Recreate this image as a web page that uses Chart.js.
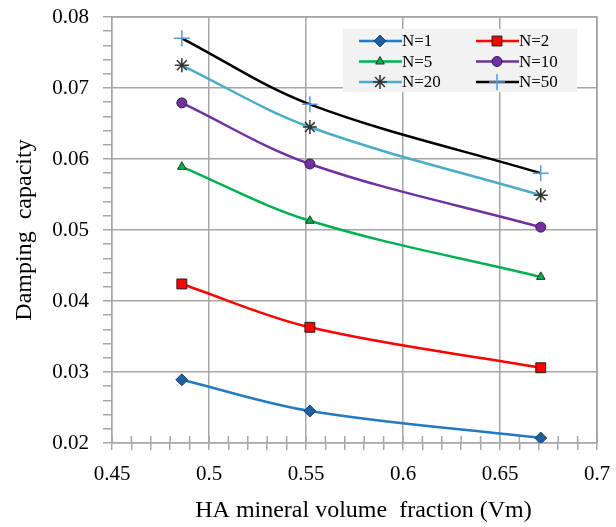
<!DOCTYPE html>
<html>
<head>
<meta charset="utf-8">
<script src="https://cdn.jsdelivr.net/npm/chart.js@4.4.1/dist/chart.umd.min.js"></script>
<style>
  html, body { margin: 0; padding: 0; background: #fff; }
  #wrap { width: 616px; height: 527px; }
</style>
</head>
<body>
<div id="wrap"><canvas id="damping-chart" width="616" height="527"></canvas></div>
<script>
var volumeFraction = [0.486, 0.552, 0.671];
var seriesNames = ["N=1", "N=2", "N=5", "N=10", "N=20", "N=50"];
var n1 = [0.0289, 0.0245, 0.0207];
var n2 = [0.0424, 0.0363, 0.0306];
var n5 = [0.0589, 0.0513, 0.0434];
var n10 = [0.0679, 0.0593, 0.0504];
var n20 = [0.0732, 0.0645, 0.0549];
var n50 = [0.0770, 0.0677, 0.0580];
var xTicks = [0.45, 0.5, 0.55, 0.6, 0.65, 0.7];
var yTicks = [0.02, 0.03, 0.04, 0.05, 0.06, 0.07, 0.08];

var serif = "'Liberation Serif', 'Times New Roman', serif";
var gridGray = "#a6a6a6";

function pts(ys) {
  return ys.map(function (y, i) { return { x: volumeFraction[i], y: y }; });
}

function series(label, ys, line, style, fill, border, radius) {
  return {
    label: label,
    data: pts(ys),
    borderColor: line,
    borderWidth: 2.5,
    tension: 0.35,
    pointStyle: style,
    pointRadius: radius,
    pointBackgroundColor: fill,
    pointBorderColor: border,
    pointBorderWidth: 1,
    fill: false
  };
}

var datasets = [
  series(seriesNames[0], n1, "#2479c2", "rectRot", "#1f5f9f", "#17456f", 6),
  series(seriesNames[1], n2, "#ff0000", "rect", "#ff0000", "#202020", 7),
  series(seriesNames[2], n5, "#00b050", "triangle", "#00b050", "#1b3b1b", 5),
  series(seriesNames[3], n10, "#7030a0", "circle", "#7030a0", "#3a1a55", 5),
  series(seriesNames[4], n20, "#4bacc6", "star", "#333333", "#333333", 7),
  series(seriesNames[5], n50, "#000000", "cross", "#5b9bd5", "#5b9bd5", 8)
];
datasets[4].pointBorderWidth = 1.5;
datasets[5].pointBorderWidth = 1.5;

function isMajor(v, step) {
  var q = v / step;
  return Math.abs(q - Math.round(q)) < 1e-6;
}

// legend box drawn inside the plot, two columns
var boxLegend = {
  id: "boxLegend",
  afterDraw: function (chart) {
    var ctx = chart.ctx, a = chart.chartArea;
    var left = a.left + 231, top = a.top + 12, w = 234, h = 63;
    ctx.save();
    ctx.fillStyle = "#f2f2f2";
    ctx.fillRect(left, top, w, h);
    ctx.font = "17px " + serif;
    ctx.textBaseline = "middle";
    chart.data.datasets.forEach(function (ds, i) {
      var col = i % 2, row = Math.floor(i / 2);
      var x0 = left + 16 + col * 117, y = top + 12 + row * 20.5;
      ctx.strokeStyle = ds.borderColor;
      ctx.lineWidth = 2.5;
      ctx.beginPath();
      ctx.moveTo(x0, y);
      ctx.lineTo(x0 + 43, y);
      ctx.stroke();
      ctx.fillStyle = ds.pointBackgroundColor;
      ctx.strokeStyle = ds.pointBorderColor;
      ctx.lineWidth = ds.pointBorderWidth;
      Chart.helpers.drawPoint(ctx, { pointStyle: ds.pointStyle, radius: ds.pointRadius, borderWidth: ds.pointBorderWidth }, x0 + 21, y);
      ctx.fillStyle = "#000";
      ctx.fillText(ds.label, x0 + 43, y + 1);
    });
    ctx.restore();
  }
};

// plot border on top and right
var frame = {
  id: "frame",
  beforeDatasetsDraw: function (chart) {
    var ctx = chart.ctx, a = chart.chartArea;
    ctx.save();
    ctx.strokeStyle = gridGray;
    ctx.lineWidth = 1.5;
    ctx.beginPath();
    ctx.moveTo(a.left, a.top);
    ctx.lineTo(a.right, a.top);
    ctx.lineTo(a.right, a.bottom);
    ctx.stroke();
    // x minor ticks crossing the axis
    var xs = chart.scales.x;
    xs.ticks.forEach(function (t) {
      var px = xs.getPixelForValue(t.value);
      ctx.beginPath();
      ctx.moveTo(px, a.bottom - 7);
      ctx.lineTo(px, a.bottom);
      ctx.stroke();
    });
    ctx.restore();
  }
};

new Chart(document.getElementById("damping-chart"), {
  type: "line",
  data: { datasets: datasets },
  plugins: [frame, boxLegend],
  options: {
    responsive: false,
    animation: false,
    layout: { padding: { top: 17, right: 19, left: 0, bottom: 0 } },
    plugins: { legend: { display: false }, tooltip: { enabled: false } },
    scales: {
      x: {
        type: "linear",
        min: xTicks[0],
        max: xTicks[xTicks.length - 1],
        afterFit: function (s) { s.height = 84; s.paddingLeft = 0; s.paddingRight = 0; },
        ticks: {
          stepSize: 0.01,
          autoSkip: false,
          maxRotation: 0,
          padding: 12,
          color: "#000",
          font: { family: serif, size: 21 },
          callback: function (v) {
            return isMajor(v, 0.05) ? String(Number(v.toFixed(2))) : "";
          }
        },
        grid: {
          color: function (c) { return c.tick && isMajor(c.tick.value, 0.05) ? gridGray : "rgba(0,0,0,0)"; },
          tickColor: gridGray,
          lineWidth: 1.5,
          tickLength: 7
        },
        border: { color: gridGray, width: 1.5 },
        title: {
          display: true,
          text: "   HA mineral volume  fraction (Vm)",
          color: "#000",
          font: { family: serif, size: 24 },
          padding: { top: 0, bottom: 2 }
        }
      },
      y: {
        min: yTicks[0],
        max: yTicks[yTicks.length - 1],
        afterFit: function (s) { s.width = 112; s.paddingTop = 0; s.paddingBottom = 0; },
        ticks: {
          stepSize: 0.002,
          autoSkip: false,
          padding: 14,
          color: "#000",
          font: { family: serif, size: 21 },
          callback: function (v) {
            return isMajor(v, 0.01) ? v.toFixed(2) : "";
          }
        },
        grid: {
          color: function (c) { return c.tick && isMajor(c.tick.value, 0.01) ? gridGray : "rgba(0,0,0,0)"; },
          tickColor: gridGray,
          lineWidth: 1.5,
          tickLength: 9
        },
        border: { color: gridGray, width: 1.5 },
        title: {
          display: true,
          text: "Damping  capacity",
          color: "#000",
          font: { family: serif, size: 24 },
          padding: { top: 10, bottom: 0 }
        }
      }
    }
  }
});
</script>
</body>
</html>
